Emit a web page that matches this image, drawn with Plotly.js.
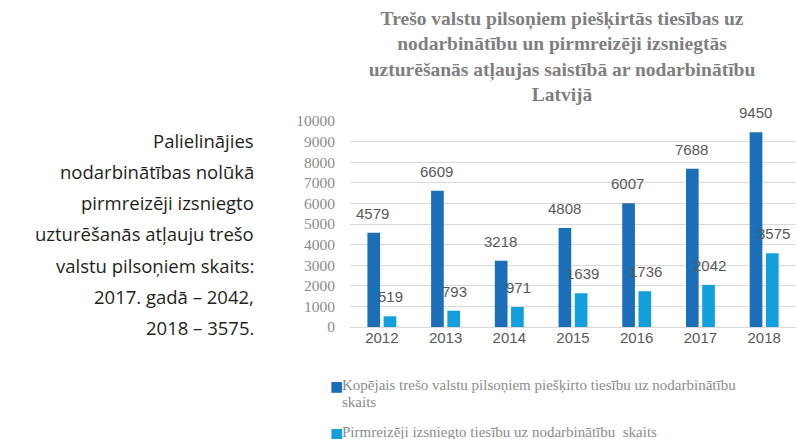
<!DOCTYPE html>
<html><head><meta charset="utf-8">
<script src="https://cdn.plot.ly/plotly-3.0.1.min.js"></script>
<style>html,body{margin:0;padding:0;background:#fff;}#chart{width:796px;height:439px;}</style>
</head><body><div id="chart"></div>
<script>
const years = ['2012','2013','2014','2015','2016','2017','2018'];
const totalRights = [4579, 6609, 3218, 4808, 6007, 7688, 9450];
const firstPermits = [519, 793, 971, 1639, 1736, 2042, 3575];
const seriesNames = ['Kopējais trešo valstu pilsoņiem piešķirto tiesību uz nodarbinātību', 'Pirmreizēji izsniegto tiesību uz nodarbinātību  skaits'];
const seriesNameCont = 'skaits';
const yTicks = [0,1000,2000,3000,4000,5000,6000,7000,8000,9000,10000];
const titleText = 'Trešo valstu pilsoņiem piešķirtās tiesības uz<br>nodarbinātību un pirmreizēji izsniegtās<br>uzturēšanās atļaujas saistībā ar nodarbinātību<br>Latvijā';
const sideLines = ['Palielinājies','nodarbinātības nolūkā','pirmreizēji izsniegto','uzturēšanās atļauju trešo','valstu pilsoņiem skaits:','2017. gadā – 2042,','2018 – 3575.'];

const darkC = '#1b6fb8', lightC = '#129fdb';
const traces = [
  {type:'bar', x:years, y:totalRights, name:seriesNames[0], marker:{color:darkC}, hoverinfo:'none'},
  {type:'bar', x:years, y:firstPermits, name:seriesNames[1], marker:{color:lightC}, hoverinfo:'none'}
];
const annotations = [];
const lblFont = {family:'Liberation Sans, Arial, sans-serif', size:15, color:'#595959'};
years.forEach((yr,i)=>{
  // x given as category index
  annotations.push({x:i, y:totalRights[i], xref:'x', yref:'y', text:String(totalRights[i]), showarrow:false, xshift:-9, yshift:9, yanchor:'bottom', font:lblFont});
  annotations.push({x:i, y:firstPermits[i], xref:'x', yref:'y', text:String(firstPermits[i]), showarrow:false, xshift:9, yshift:9, yanchor:'bottom', font:lblFont});
});
// pixel helpers for paper coordinates (plot area: x 350..796, y 121..327)
const L = 350, W = 446, T = 121, H = 206;
const px = v => (v - L) / W, py = v => (T + H - v) / H;
sideLines.forEach((ln,i)=>{
  annotations.push({xref:'paper', yref:'paper', x:px(256), y:py(140 + i*31.3), xanchor:'right', yanchor:'middle', showarrow:false, text:ln,
    font:{family:'Open Sans, Noto Sans, sans-serif', size:18.5, color:'#231f20'}});
});
// legend drawn as text
const legFont = {family:'Liberation Serif, Times New Roman, serif', size:15, color:'#8c8c8c'};
const legItems = [
  {color:darkC, lines:[seriesNames[0], seriesNameCont], ys:[385, 402]},
  {color:lightC, lines:[seriesNames[1]], ys:[432]}
];
legItems.forEach(it=>{
  annotations.push({xref:'paper', yref:'paper', x:px(328), y:py(it.ys[0]+1), xanchor:'left', yanchor:'middle', showarrow:false,
    text:'■', font:{family:'DejaVu Sans, sans-serif', size:14, color:it.color}});
  it.lines.forEach((t,j)=>{
    annotations.push({xref:'paper', yref:'paper', x:px(340), y:py(it.ys[j]), xanchor:'left', yanchor:'middle', showarrow:false, text:t, font:legFont});
  });
});

const layout = {
  width:796, height:439,
  margin:{l:L, r:796-L-W, t:T, b:439-T-H},
  paper_bgcolor:'#fff', plot_bgcolor:'#fff',
  title:{text:titleText, x:562/796, xanchor:'center', y:1-25/439, yanchor:'middle', yref:'container',
    font:{family:'Liberation Serif, Times New Roman, serif', size:19.5, color:'#7f7f7f', weight:'bold'}},
  barmode:'group', bargap:0.49, bargroupgap:0.22,
  showlegend:false,
  xaxis:{type:'category', range:[-0.5, years.length-0.5], showgrid:false, zeroline:false, showline:false, ticks:'',
    tickfont:{family:'Liberation Sans, Arial, sans-serif', size:15, color:'#595959'}},
  yaxis:{range:[0,10000], tickvals:yTicks, ticktext:yTicks.map(String), showgrid:true, gridcolor:'#d9d9d9', gridwidth:1, zeroline:true, zerolinecolor:'#d9d9d9',
    showline:false, ticks:'', ticklabelstandoff:14,
    tickfont:{family:'Liberation Serif, Times New Roman, serif', size:15.5, color:'#8c8c8c'}},
  annotations:annotations
};
Plotly.newPlot('chart', traces, layout, {displayModeBar:false, staticPlot:true});
</script></body></html>
